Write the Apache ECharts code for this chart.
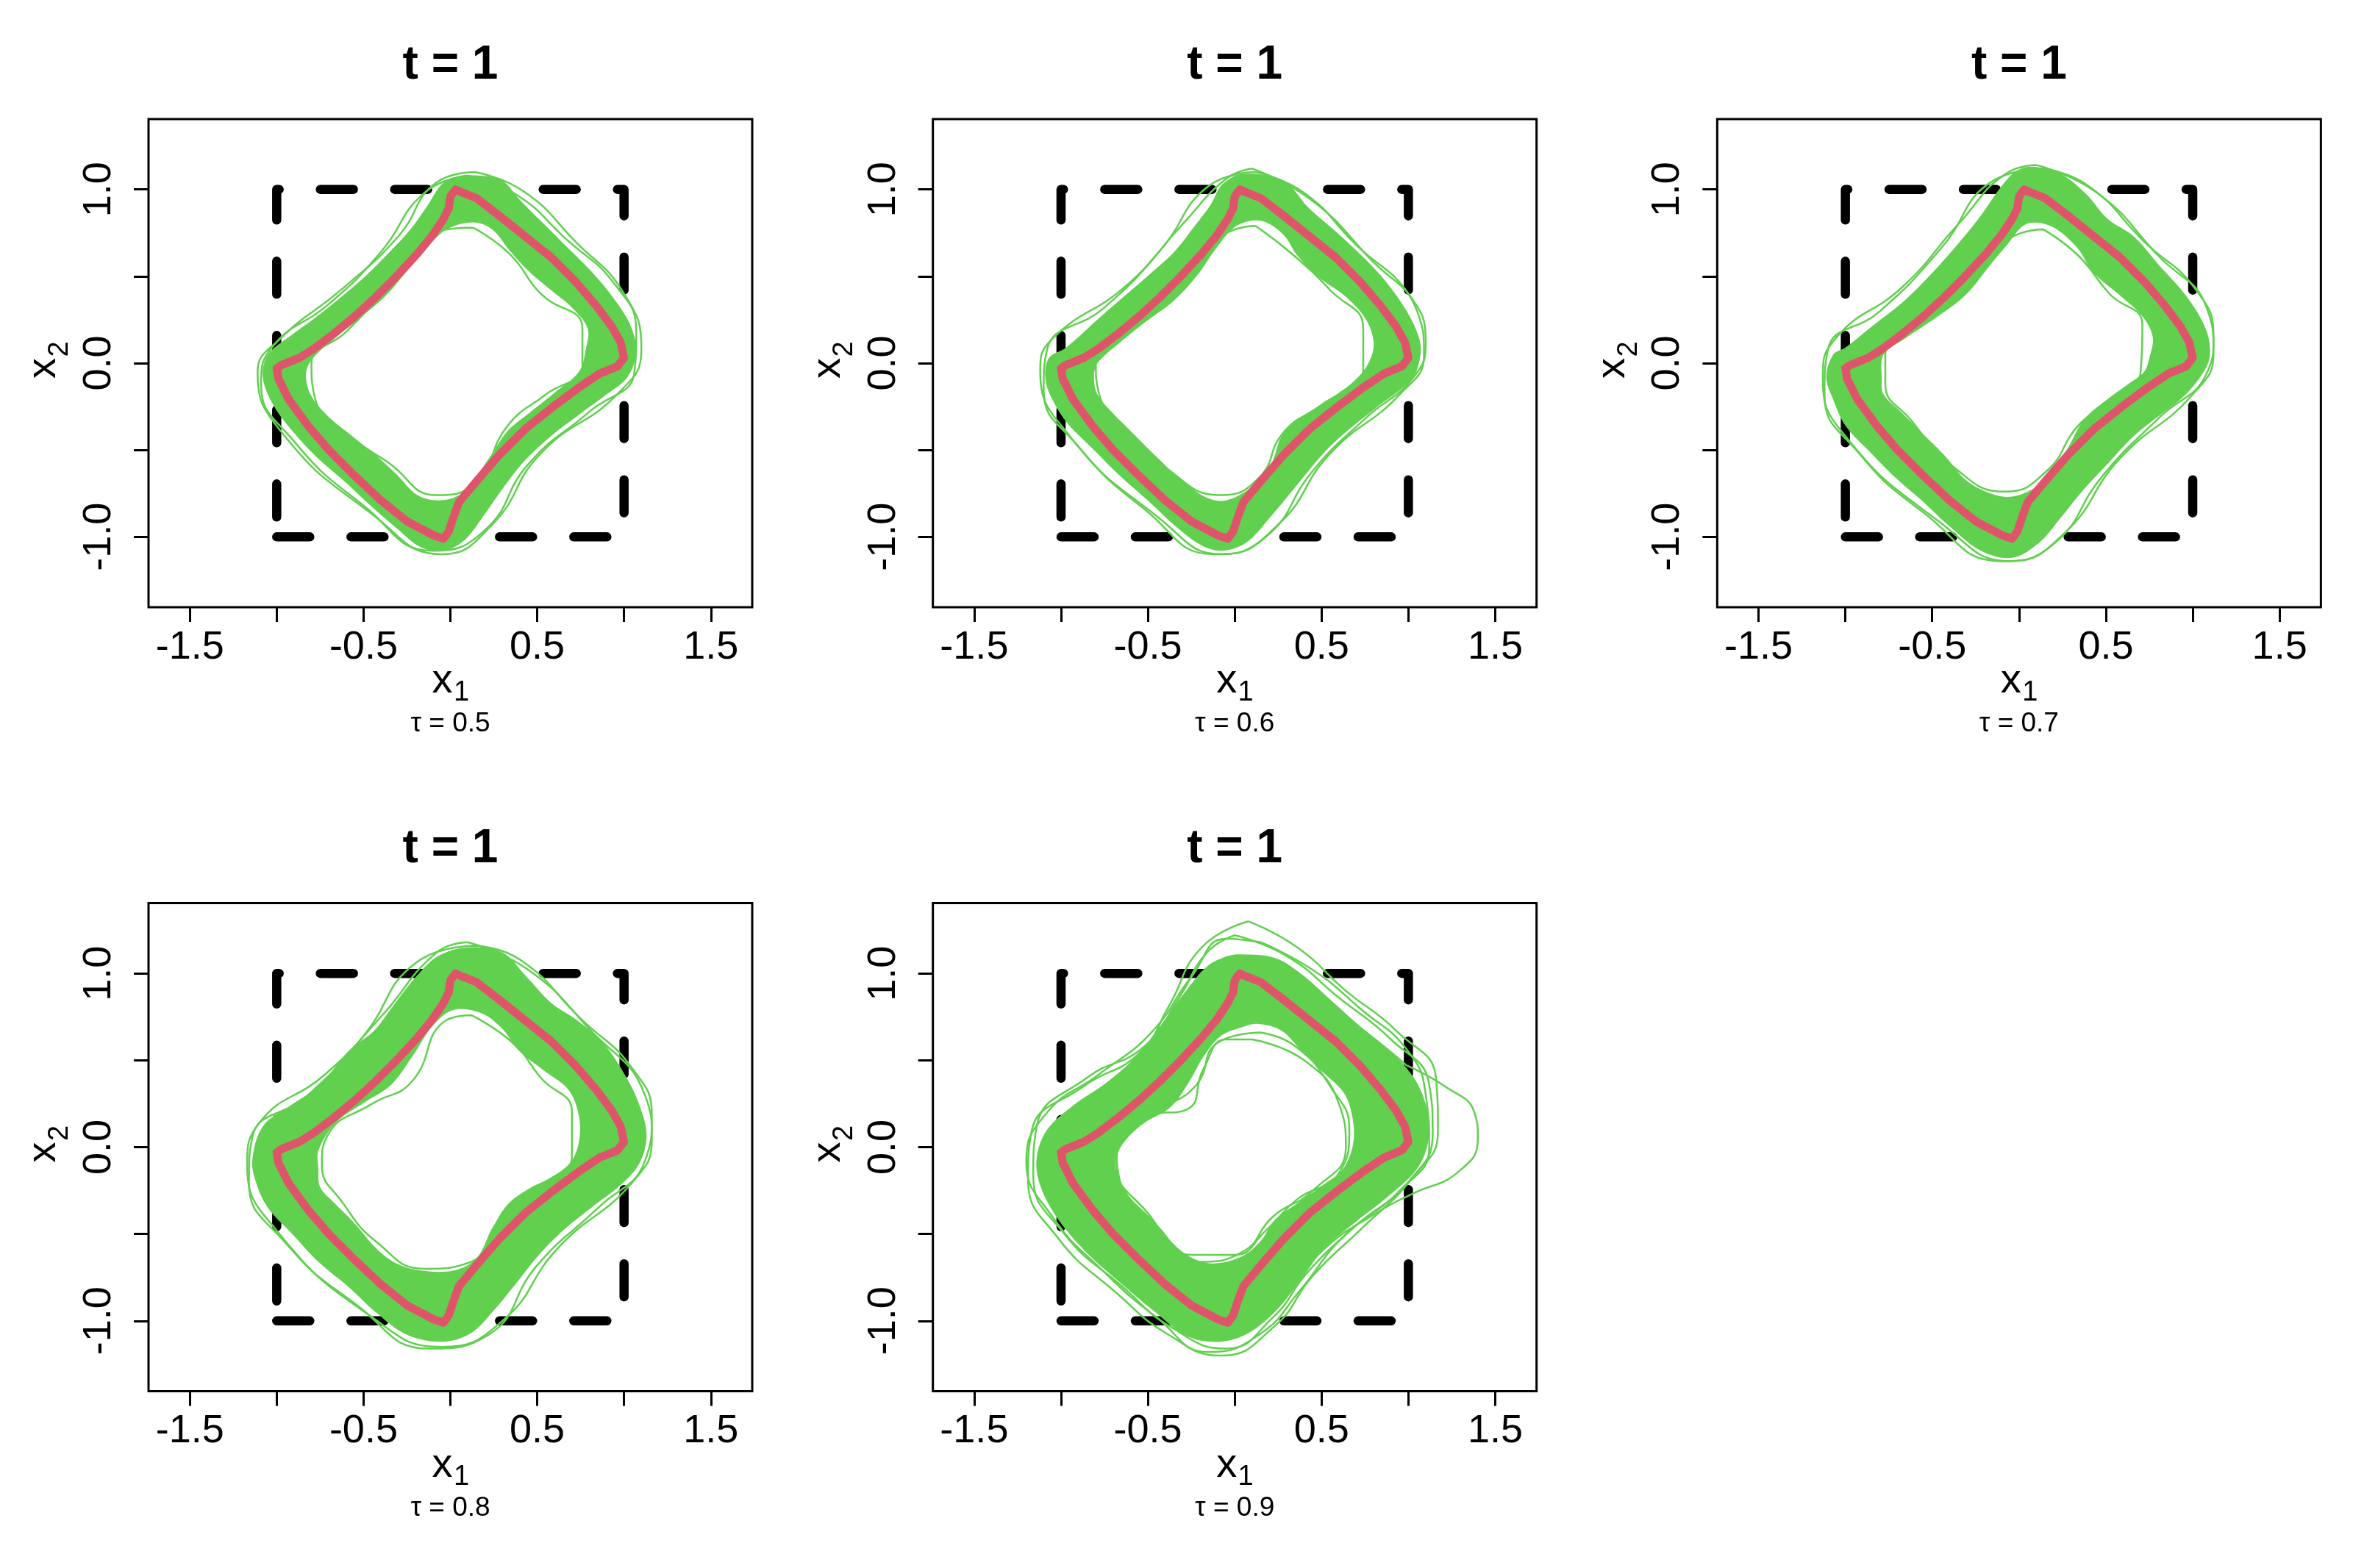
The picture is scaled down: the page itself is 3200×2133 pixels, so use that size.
<!DOCTYPE html>
<html>
<head>
<meta charset="utf-8">
<script src="https://cdn.jsdelivr.net/npm/echarts@6/dist/echarts.min.js"></script>
<style>
html, body { margin: 0; background: #fff; }
#plot { width: 3200px; height: 2133px; }
</style>
</head>
<body>
<div id="plot"></div>
<script>
// tick positions and labels
const xTicks = [-1.5, -1, -0.5, 0, 0.5, 1, 1.5];
const xLabels = [-1.5, -0.5, 0.5, 1.5];
const yTicks = [-1, -0.5, 0, 0.5, 1];
const yLabels = [-1, 0, 1];
const taus = ['0.5', '0.6', '0.7', '0.8', '0.9'];

// the dashed reference square
const square = [[-1, -1], [1, -1], [1, 1], [-1, 1], [-1, -1]];

// red boundary (same in every panel)
const redCurve = [
	[0.03, 1.00], [0.00, 0.96], [-0.01, 0.89], [-0.04, 0.83], [-0.10, 0.74], [-0.19, 0.63], [-0.31, 0.50],
	[-0.43, 0.38], [-0.55, 0.27], [-0.67, 0.17], [-0.79, 0.08], [-0.87, 0.03], [-0.97, -0.01], [-1.00, -0.03],
	[-0.99, -0.09], [-0.93, -0.21], [-0.82, -0.36], [-0.70, -0.50], [-0.55, -0.65], [-0.40, -0.79], [-0.25, -0.91],
	[-0.10, -0.99], [-0.04, -1.01], [-0.01, -0.97], [0.02, -0.88], [0.05, -0.80], [0.15, -0.68], [0.28, -0.53],
	[0.43, -0.38], [0.58, -0.26], [0.74, -0.14], [0.86, -0.06], [0.96, -0.02], [1.00, 0.03], [0.98, 0.12],
	[0.93, 0.21], [0.84, 0.33], [0.72, 0.47], [0.58, 0.61], [0.43, 0.73], [0.28, 0.85], [0.15, 0.95], [0.05, 0.99]
];

// green bands: outer and inner edge of the dense region, per tau
const outer05 = [
	[0.02, 1.07], [0.16, 1.08], [0.30, 1.05], [0.40, 0.94], [0.54, 0.80], [0.67, 0.67], [0.81, 0.53], [0.95, 0.36],
	[1.04, 0.21], [1.07, 0.06], [1.02, -0.08], [0.90, -0.18], [0.75, -0.29], [0.58, -0.42], [0.43, -0.56], [0.31, -0.71],
	[0.19, -0.88], [0.08, -1.02], [-0.04, -1.08], [-0.17, -1.06], [-0.31, -0.95], [-0.46, -0.82], [-0.61, -0.68],
	[-0.76, -0.55], [-0.91, -0.39], [-1.02, -0.24], [-1.08, -0.08], [-1.05, 0.05], [-0.93, 0.15], [-0.78, 0.26],
	[-0.63, 0.38], [-0.49, 0.50], [-0.35, 0.64], [-0.23, 0.77], [-0.13, 0.91], [-0.05, 1.03]
];
const inner05 = [
	[0.13, 0.81], [0.24, 0.77], [0.34, 0.65], [0.45, 0.53], [0.58, 0.42], [0.70, 0.32], [0.79, 0.20], [0.78, 0.08],
	[0.74, -0.05], [0.60, -0.17], [0.45, -0.29], [0.33, -0.39], [0.24, -0.52], [0.15, -0.65], [0.05, -0.76],
	[-0.07, -0.79], [-0.19, -0.76], [-0.31, -0.64], [-0.44, -0.52], [-0.58, -0.41], [-0.72, -0.29], [-0.81, -0.17],
	[-0.83, -0.05], [-0.79, 0.03], [-0.67, 0.14], [-0.52, 0.26], [-0.37, 0.39], [-0.25, 0.53], [-0.13, 0.67], [-0.02, 0.77]
];
const outer06 = [
	[0.05, 1.09], [0.28, 1.05], [0.43, 0.89], [0.58, 0.76], [0.74, 0.61], [0.87, 0.47], [0.99, 0.30], [1.06, 0.15],
	[1.07, 0.05], [1.02, -0.09], [0.81, -0.26], [0.66, -0.38], [0.51, -0.52], [0.36, -0.70], [0.21, -0.88], [0.07, -1.03],
	[-0.07, -1.08], [-0.19, -1.05], [-0.34, -0.94], [-0.49, -0.80], [-0.66, -0.65], [-0.81, -0.50], [-0.96, -0.35],
	[-1.05, -0.21], [-1.09, -0.09], [-1.07, 0.03], [-0.97, 0.09], [-0.78, 0.26], [-0.63, 0.39], [-0.48, 0.52],
	[-0.34, 0.65], [-0.23, 0.79], [-0.14, 0.91], [-0.07, 1.03]
];
const inner06 = [
	[0.15, 0.82], [0.28, 0.74], [0.36, 0.62], [0.49, 0.49], [0.63, 0.39], [0.75, 0.26], [0.80, 0.12], [0.77, 0.00],
	[0.68, -0.11], [0.51, -0.23], [0.36, -0.33], [0.27, -0.42], [0.21, -0.58], [0.10, -0.71], [-0.05, -0.79],
	[-0.17, -0.77], [-0.31, -0.67], [-0.46, -0.53], [-0.58, -0.41], [-0.70, -0.29], [-0.79, -0.18], [-0.81, -0.08],
	[-0.79, 0.00], [-0.66, 0.12], [-0.51, 0.24], [-0.35, 0.36], [-0.22, 0.50], [-0.10, 0.67], [0.01, 0.79]
];
const outer07 = [
	[0.09, 1.13], [0.24, 1.09], [0.39, 0.97], [0.51, 0.83], [0.66, 0.73], [0.81, 0.56], [0.96, 0.39], [1.07, 0.21],
	[1.10, 0.08], [1.08, -0.02], [0.96, -0.18], [0.81, -0.30], [0.66, -0.42], [0.51, -0.58], [0.37, -0.73], [0.24, -0.89],
	[0.12, -1.03], [-0.04, -1.12], [-0.22, -1.08], [-0.40, -0.94], [-0.55, -0.80], [-0.70, -0.67], [-0.85, -0.52],
	[-1.00, -0.36], [-1.07, -0.21], [-1.11, -0.08], [-1.07, 0.05], [-1.00, 0.09], [-0.85, 0.21], [-0.66, 0.36],
	[-0.49, 0.53], [-0.34, 0.70], [-0.22, 0.85], [-0.10, 1.02], [-0.01, 1.11]
];
const inner07 = [
	[0.18, 0.79], [0.33, 0.67], [0.43, 0.52], [0.58, 0.39], [0.71, 0.27], [0.77, 0.15], [0.75, 0.03], [0.72, -0.05],
	[0.63, -0.12], [0.48, -0.23], [0.37, -0.33], [0.28, -0.49], [0.18, -0.64], [0.05, -0.74], [-0.07, -0.77],
	[-0.19, -0.74], [-0.31, -0.67], [-0.43, -0.53], [-0.55, -0.41], [-0.67, -0.29], [-0.78, -0.18], [-0.79, -0.09],
	[-0.78, 0.05], [-0.66, 0.14], [-0.48, 0.26], [-0.31, 0.39], [-0.17, 0.56], [-0.07, 0.68], [0.04, 0.80]
];
const outer08 = [
	[0.10, 1.15], [0.30, 1.12], [0.43, 0.99], [0.58, 0.83], [0.73, 0.73], [0.88, 0.60], [1.02, 0.39], [1.10, 0.21],
	[1.13, 0.06], [1.09, -0.09], [0.99, -0.21], [0.81, -0.35], [0.66, -0.47], [0.51, -0.62], [0.39, -0.77], [0.25, -0.94],
	[0.12, -1.07], [-0.04, -1.12], [-0.25, -1.08], [-0.43, -0.95], [-0.58, -0.81], [-0.76, -0.66], [-0.91, -0.50],
	[-1.05, -0.35], [-1.12, -0.20], [-1.14, -0.07], [-1.08, 0.12], [-0.92, 0.24], [-0.76, 0.35], [-0.58, 0.56],
	[-0.44, 0.67], [-0.31, 0.84], [-0.19, 0.99], [-0.07, 1.10]
];
const inner08 = [
	[0.18, 0.77], [0.30, 0.68], [0.39, 0.56], [0.54, 0.44], [0.68, 0.33], [0.74, 0.18], [0.74, 0.03], [0.69, -0.09],
	[0.57, -0.18], [0.45, -0.24], [0.33, -0.33], [0.24, -0.47], [0.15, -0.64], [0.02, -0.71], [-0.17, -0.71],
	[-0.31, -0.67], [-0.43, -0.58], [-0.55, -0.44], [-0.67, -0.32], [-0.75, -0.23], [-0.76, -0.12], [-0.76, -0.02],
	[-0.66, 0.14], [-0.49, 0.26], [-0.34, 0.36], [-0.22, 0.52], [-0.10, 0.70], [0.02, 0.79]
];
const outer09 = [
	[0.04, 1.11], [0.23, 1.09], [0.38, 1.00], [0.55, 0.85], [0.74, 0.68], [0.93, 0.52], [1.07, 0.33], [1.12, 0.09],
	[1.06, -0.11], [0.90, -0.27], [0.71, -0.42], [0.52, -0.58], [0.39, -0.75], [0.24, -0.94], [0.08, -1.07],
	[-0.08, -1.12], [-0.27, -1.09], [-0.47, -0.94], [-0.66, -0.78], [-0.85, -0.61], [-1.02, -0.41], [-1.12, -0.22],
	[-1.14, -0.06], [-1.08, 0.10], [-0.93, 0.24], [-0.74, 0.37], [-0.57, 0.52], [-0.42, 0.71], [-0.28, 0.90],
	[-0.16, 1.04], [-0.04, 1.10]
];
const inner09 = [
	[0.13, 0.71], [0.27, 0.67], [0.38, 0.56], [0.51, 0.43], [0.63, 0.31], [0.68, 0.16], [0.68, 0.01], [0.62, -0.13],
	[0.52, -0.21], [0.38, -0.31], [0.23, -0.42], [0.15, -0.54], [0.04, -0.63], [-0.13, -0.67], [-0.26, -0.63],
	[-0.37, -0.54], [-0.48, -0.41], [-0.61, -0.28], [-0.68, -0.14], [-0.68, -0.05], [-0.62, 0.05], [-0.52, 0.14],
	[-0.37, 0.23], [-0.26, 0.38], [-0.18, 0.52], [-0.08, 0.64], [0.04, 0.69]
];

// thin single curves at the edges of each band
const fringeOut05 = [
	[0.14, 1.10], [0.42, 0.99], [0.72, 0.70], [1.00, 0.40], [1.10, 0.08], [0.97, -0.17], [0.52, -0.52], [0.24, -0.93],
	[-0.05, -1.10], [-0.45, -0.87], [-0.97, -0.40], [-1.11, -0.05], [-0.98, 0.14], [-0.62, 0.43], [-0.30, 0.73], [-0.08, 1.04]
];
const fringeMid05 = [
	[0.10, 1.08], [0.38, 0.97], [0.66, 0.72], [0.95, 0.45], [1.07, 0.18], [1.06, -0.05], [0.80, -0.28], [0.45, -0.58],
	[0.20, -0.96], [-0.10, -1.08], [-0.50, -0.82], [-0.90, -0.45], [-1.09, -0.12], [-1.02, 0.10], [-0.70, 0.34],
	[-0.40, 0.64], [-0.15, 0.98]
];
const fringeIn05 = [
	[0.13, 0.78], [0.34, 0.63], [0.52, 0.40], [0.76, 0.20], [0.76, -0.02], [0.55, -0.18], [0.33, -0.36], [0.15, -0.68],
	[-0.08, -0.76], [-0.36, -0.57], [-0.55, -0.44], [-0.78, -0.20], [-0.80, 0.00], [-0.60, 0.18], [-0.32, 0.48], [-0.08, 0.76]
];
const fringeOut06 = [
	[0.10, 1.12], [0.44, 0.94], [0.78, 0.60], [1.05, 0.30], [1.09, 0.05], [0.95, -0.18], [0.55, -0.52], [0.25, -0.93],
	[-0.07, -1.10], [-0.45, -0.88], [-0.95, -0.42], [-1.12, -0.04], [-1.05, 0.14], [-0.62, 0.45], [-0.30, 0.80], [-0.05, 1.06]
];
const fringeMid06 = [
	[0.12, 1.10], [0.40, 0.98], [0.70, 0.68], [1.00, 0.40], [1.10, 0.12], [1.03, -0.08], [0.75, -0.32], [0.45, -0.62],
	[0.18, -1.00], [-0.12, -1.10], [-0.52, -0.84], [-0.90, -0.48], [-1.10, -0.15], [-1.08, 0.08], [-0.75, 0.32],
	[-0.42, 0.66], [-0.15, 1.02]
];
const fringeIn06 = [
	[0.12, 0.79], [0.34, 0.62], [0.55, 0.42], [0.74, 0.20], [0.74, -0.05], [0.50, -0.24], [0.28, -0.40], [0.14, -0.66],
	[-0.08, -0.76], [-0.40, -0.60], [-0.62, -0.38], [-0.78, -0.18], [-0.80, 0.00], [-0.62, 0.16], [-0.34, 0.42], [-0.06, 0.74]
];
const fringeOut07 = [
	[0.10, 1.14], [0.45, 0.98], [0.80, 0.62], [1.08, 0.32], [1.12, 0.06], [1.00, -0.18], [0.58, -0.55], [0.26, -0.98],
	[-0.05, -1.14], [-0.45, -0.92], [-1.00, -0.42], [-1.13, -0.08], [-1.05, 0.15], [-0.67, 0.44], [-0.35, 0.80], [-0.06, 1.10]
];
const fringeMid07 = [
	[0.14, 1.12], [0.40, 1.02], [0.72, 0.70], [1.02, 0.42], [1.12, 0.15], [1.08, -0.06], [0.80, -0.32], [0.48, -0.65],
	[0.20, -1.04], [-0.10, -1.14], [-0.55, -0.86], [-0.92, -0.52], [-1.12, -0.18], [-1.10, 0.08], [-0.80, 0.30],
	[-0.45, 0.66], [-0.15, 1.05]
];
const fringeIn07 = [
	[0.14, 0.77], [0.34, 0.62], [0.52, 0.40], [0.71, 0.22], [0.70, -0.05], [0.52, -0.22], [0.34, -0.36], [0.16, -0.62],
	[-0.08, -0.74], [-0.40, -0.58], [-0.62, -0.33], [-0.77, -0.12], [-0.77, 0.05], [-0.60, 0.20], [-0.35, 0.38], [-0.05, 0.72]
];
const fringeOut08 = [
	[0.10, 1.18], [0.45, 1.02], [0.80, 0.68], [1.12, 0.30], [1.16, 0.05], [1.05, -0.20], [0.62, -0.58], [0.30, -1.00],
	[-0.05, -1.15], [-0.45, -0.98], [-1.00, -0.48], [-1.17, -0.10], [-1.10, 0.14], [-0.72, 0.42], [-0.40, 0.75], [-0.08, 1.12]
];
const fringeMid08 = [
	[0.14, 1.16], [0.40, 1.08], [0.75, 0.74], [1.05, 0.45], [1.16, 0.18], [1.12, -0.08], [0.85, -0.35], [0.50, -0.68],
	[0.22, -1.08], [-0.12, -1.16], [-0.55, -0.90], [-0.95, -0.55], [-1.16, -0.20], [-1.14, 0.06], [-0.82, 0.30],
	[-0.50, 0.64], [-0.20, 1.06]
];
const fringeIn08 = [
	[0.12, 0.76], [0.36, 0.60], [0.52, 0.40], [0.70, 0.20], [0.70, -0.05], [0.48, -0.25], [0.28, -0.42], [0.12, -0.66],
	[-0.15, -0.70], [-0.42, -0.55], [-0.62, -0.32], [-0.74, -0.10], [-0.70, 0.08], [-0.45, 0.25], [-0.22, 0.38], [-0.04, 0.72]
];
const fringeOut09 = [
	[0.08, 1.30], [0.36, 1.15], [0.64, 0.90], [0.93, 0.67], [1.16, 0.39], [1.17, 0.09], [1.02, -0.18], [0.74, -0.46],
	[0.45, -0.74], [0.23, -1.03], [-0.08, -1.20], [-0.38, -1.08], [-0.68, -0.84], [-1.02, -0.52], [-1.19, -0.18],
	[-1.17, 0.09], [-0.87, 0.35], [-0.55, 0.54], [-0.38, 0.81], [-0.19, 1.15]
];
const fringeMid09 = [
	[0.00, 1.22], [0.30, 1.10], [0.60, 0.86], [0.90, 0.62], [1.12, 0.36], [1.14, 0.08], [1.00, -0.20], [0.70, -0.45],
	[0.42, -0.72], [0.22, -0.98], [-0.05, -1.16], [-0.36, -1.04], [-0.65, -0.80], [-0.98, -0.50], [-1.16, -0.16],
	[-1.14, 0.12], [-0.85, 0.40], [-0.52, 0.58], [-0.32, 0.86], [-0.16, 1.12]
];
const fringeWide09 = [
	[0.15, 1.18], [0.45, 1.02], [0.72, 0.80], [1.00, 0.55], [1.10, 0.30], [1.12, 0.00], [0.95, -0.25], [0.62, -0.52],
	[0.38, -0.82], [0.14, -1.08], [-0.15, -1.18], [-0.45, -0.98], [-0.75, -0.72], [-1.05, -0.40], [-1.20, -0.08],
	[-1.08, 0.20], [-0.78, 0.42], [-0.48, 0.66], [-0.25, 0.98], [-0.05, 1.20]
];
const fringeIn09 = [
	[0.10, 0.62], [0.40, 0.50], [0.60, 0.25], [0.64, 0.00], [0.45, -0.25], [0.22, -0.40], [0.05, -0.60], [-0.20, -0.66],
	[-0.45, -0.45], [-0.66, -0.20], [-0.68, 0.00], [-0.50, 0.18], [-0.27, 0.22], [-0.18, 0.45], [-0.05, 0.62]
];
const fringeIn09b = [
	[0.15, 0.66], [0.35, 0.58], [0.55, 0.35], [0.66, 0.10], [0.60, -0.15], [0.36, -0.30], [0.18, -0.48], [0.00, -0.62],
	[-0.25, -0.62], [-0.50, -0.38], [-0.68, -0.10], [-0.62, 0.08], [-0.42, 0.22], [-0.22, 0.36], [-0.10, 0.60]
];
const spur09 = [
	[0.99, 0.47], [1.21, 0.35], [1.38, 0.20], [1.40, 0.05], [1.29, -0.14], [1.02, -0.27], [0.83, -0.37], [0.50, -0.60],
	[0.20, -0.95], [-0.10, -1.08], [-0.50, -0.85], [-0.95, -0.45], [-1.08, -0.10], [-0.90, 0.20], [-0.50, 0.50],
	[-0.20, 0.95], [0.10, 1.08], [0.50, 0.85]
];

const panels = [
	{ outer: outer05, inner: inner05, thin: [fringeOut05, fringeMid05, fringeIn05] },
	{ outer: outer06, inner: inner06, thin: [fringeOut06, fringeMid06, fringeIn06] },
	{ outer: outer07, inner: inner07, thin: [fringeOut07, fringeMid07, fringeIn07] },
	{ outer: outer08, inner: inner08, thin: [fringeOut08, fringeMid08, fringeIn08] },
	{ outer: outer09, inner: inner09, thin: [fringeOut09, fringeMid09, fringeWide09, fringeIn09, fringeIn09b, spur09] }
];

const GREEN = '#61D04F';
const RED = '#DF536B';
const FONT = 'Liberation Sans';
const BOX_LEFT = 202, BOX_TOP = 162, BOX_W = 821, BOX_H = 664;
const COL_STEP = 1066.67, ROW_STEP = 1066.5;
const X_LIM = 1.738, Y_LIM = 1.405;

function closeLoop(pts) {
	return pts.concat([pts[0]]);
}

function boxOf(i) {
	return {
		left: BOX_LEFT + (i % 3) * COL_STEP,
		top: BOX_TOP + Math.floor(i / 3) * ROW_STEP
	};
}

function textEl(x, y, text, font, rotation) {
	return {
		type: 'text', x: x, y: y, rotation: rotation || 0,
		style: { text: text, font: font, fill: '#000', align: 'center', verticalAlign: 'middle' }
	};
}

function makeOption() {
	const grid = [], xAxis = [], yAxis = [], series = [], graphic = [];
	panels.forEach((p, i) => {
		const b = boxOf(i);
		const cx = b.left + BOX_W / 2;
		grid.push({
			left: b.left, top: b.top, width: BOX_W, height: BOX_H,
			show: true, borderColor: '#000', borderWidth: 3, backgroundColor: 'transparent'
		});
		xAxis.push({
			type: 'value', gridIndex: i, min: -X_LIM, max: X_LIM,
			axisLine: { show: false, onZero: false },
			splitLine: { show: false },
			axisTick: { show: true, inside: false, length: 20, customValues: xTicks, lineStyle: { color: '#000', width: 3 } },
			axisLabel: {
				customValues: xLabels, margin: 28, color: '#000', fontSize: 54, fontFamily: FONT,
				formatter: v => v.toFixed(1)
			}
		});
		yAxis.push({
			type: 'value', gridIndex: i, min: -Y_LIM, max: Y_LIM,
			axisLine: { show: false, onZero: false },
			splitLine: { show: false },
			axisTick: { show: true, inside: false, length: 20, customValues: yTicks, lineStyle: { color: '#000', width: 3 } },
			axisLabel: {
				customValues: yLabels, rotate: 90, margin: 40, color: '#000', fontSize: 54, fontFamily: FONT,
				formatter: v => v.toFixed(1)
			}
		});
		series.push({
			type: 'line', xAxisIndex: i, yAxisIndex: i, data: square, z: 2,
			showSymbol: false, symbol: 'none', silent: true,
			lineStyle: { color: '#000', width: 12.5, type: [45, 56], cap: 'round', join: 'round' }
		});
		series.push({
			type: 'custom', xAxisIndex: i, yAxisIndex: i, z: 3, silent: true,
			data: [[0, 0], [0, 0]],
			renderItem: (params, api) => {
				const ring = params.dataIndex === 0 ? p.outer : p.inner;
				return {
					type: 'polygon',
					shape: { points: ring.map(pt => api.coord(pt)), smooth: 0.35 },
					style: { fill: params.dataIndex === 0 ? GREEN : '#fff', stroke: null }
				};
			}
		});
		p.thin.forEach(curve => {
			series.push({
				type: 'line', xAxisIndex: i, yAxisIndex: i, data: closeLoop(curve), z: 4,
				showSymbol: false, symbol: 'none', silent: true, smooth: 0.5,
				lineStyle: { color: GREEN, width: 2.5 }
			});
		});
		series.push({
			type: 'line', xAxisIndex: i, yAxisIndex: i, data: closeLoop(redCurve), z: 5,
			showSymbol: false, symbol: 'none', silent: true,
			lineStyle: { color: RED, width: 11, join: 'round', cap: 'round' }
		});

		// titles and axis names
		graphic.push(textEl(cx, b.top - 73, 't = 1', 'bold 64px "' + FONT + '"'));
		graphic.push(textEl(cx - 11, b.top + BOX_H + 101, 'x', '56px "' + FONT + '"'));
		graphic.push(textEl(cx + 15, b.top + BOX_H + 117, '1', '38px "' + FONT + '"'));
		graphic.push(textEl(cx, b.top + BOX_H + 159, 'τ = ' + taus[i], '37px "' + FONT + '"'));
		graphic.push(textEl(b.left - 142, b.top + 339, 'x', '56px "' + FONT + '"', Math.PI / 2));
		graphic.push(textEl(b.left - 120, b.top + 313, '2', '38px "' + FONT + '"', Math.PI / 2));
	});
	return { animation: false, backgroundColor: '#fff', grid, xAxis, yAxis, series, graphic };
}

window.addEventListener('load', () => {
	const chart = echarts.init(document.getElementById('plot'), null, { renderer: 'canvas' });
	chart.setOption(makeOption());
});
</script>
</body>
</html>
